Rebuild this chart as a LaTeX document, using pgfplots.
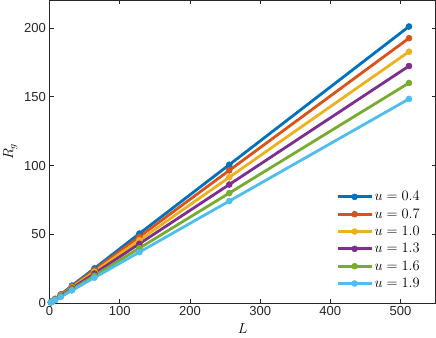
\documentclass[border=0pt]{standalone}
\usepackage[no-math]{fontspec}
\setmainfont{Liberation Sans}
\usepackage{pgfplots}
\pgfplotsset{compat=1.18}
\definecolor{c1}{RGB}{0,114,189}
\definecolor{c2}{RGB}{217,83,25}
\definecolor{c3}{RGB}{237,177,32}
\definecolor{c4}{RGB}{126,47,142}
\definecolor{c5}{RGB}{119,172,48}
\definecolor{c6}{RGB}{77,190,238}
\definecolor{axgray}{RGB}{38,38,38}
\begin{document}
\begin{tikzpicture}
\begin{axis}[
  scale only axis, width=385pt, height=302pt,
  xmin=0, xmax=550, ymin=0, ymax=220,
  xtick={0,100,...,500}, ytick={0,50,...,200},
  tick align=inside, major tick length=4pt,
  axis line style={axgray, line width=0.7pt},
  tick style={axgray, line width=0.7pt},
  tick label style={font=\fontsize{13pt}{15pt}\selectfont, text=axgray},
  /pgf/number format/assume math mode=true,
  xlabel={$L$}, ylabel={$R_g$},
  label style={font=\fontsize{14pt}{16pt}\selectfont},
  xlabel style={yshift=-1pt},
  ylabel style={yshift=0pt},
  every axis plot/.append style={line width=2.8pt, mark=*, mark size=3pt,
    mark options={line width=0.5pt}},
  legend style={at={(0.971,0.035)}, anchor=south east, draw=none, fill=none,
    font=\fontsize{14pt}{16pt}\selectfont, row sep=3.5pt,
    nodes={inner sep=1.5pt}},
  legend cell align=left,
  legend image code/.code={\draw[mark repeat=2,mark phase=2,#1] plot coordinates {(0pt,0pt)(17pt,0pt)(34pt,0pt)};},
]
\addplot[c1] coordinates {(2,0.8)(4,1.6)(8,3.2)(16,6.4)(32,12.8)(64,25.3)(128,50.6)(256,100.6)(512,201.0)};
\addplot[c2] coordinates {(2,0.8)(4,1.5)(8,3.0)(16,6.0)(32,12.1)(64,24.2)(128,48.3)(256,96.5)(512,192.5)};
\addplot[c3] coordinates {(2,0.7)(4,1.4)(8,2.9)(16,5.7)(32,11.5)(64,22.9)(128,45.8)(256,91.5)(512,182.7)};
\addplot[c4] coordinates {(2,0.7)(4,1.3)(8,2.7)(16,5.4)(32,10.8)(64,21.6)(128,43.2)(256,86.2)(512,172.3)};
\addplot[c5] coordinates {(2,0.6)(4,1.2)(8,2.5)(16,5.0)(32,10.0)(64,20.0)(128,40.0)(256,80.0)(512,160.0)};
\addplot[c6] coordinates {(2,0.6)(4,1.2)(8,2.3)(16,4.6)(32,9.3)(64,18.6)(128,37.1)(256,74.2)(512,148.4)};
\legend{$u=0.4$,$u=0.7$,$u=1.0$,$u=1.3$,$u=1.6$,$u=1.9$}
\end{axis}
\end{tikzpicture}
\end{document}
